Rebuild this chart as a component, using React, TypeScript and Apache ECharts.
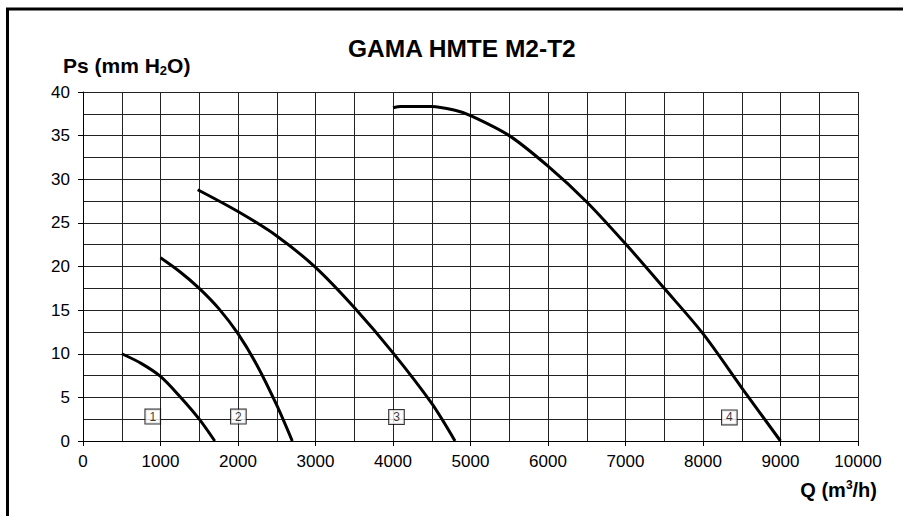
import React, { useEffect, useRef } from "react";
import * as echarts from "echarts";

const curve1: number[][] = [
  [500, 10], [750, 8.9], [1000, 7.4], [1250, 5.1], [1500, 2.5], [1700, 0],
];
const curve2: number[][] = [
  [1000, 21], [1250, 19.4], [1500, 17.5], [1750, 15.2], [2000, 12.3],
  [2250, 8.6], [2500, 4.1], [2700, 0],
];
const curve3: number[][] = [
  [1480, 28.8], [2000, 26.3], [2500, 23.5], [3000, 19.9], [3500, 15.3],
  [4000, 10.1], [4500, 4.3], [4800, 0],
];
const curve4: number[][] = [
  [4000, 38.2], [4100, 38.35], [4500, 38.35], [4800, 37.9], [5000, 37.3],
  [5500, 35.0], [6000, 31.5], [6500, 27.4], [7000, 22.6], [7500, 17.5],
  [8000, 12.3], [8500, 6.1], [9000, 0],
];
const curveLabels: (number | string)[][] = [
  [900, 2.8, "1"], [2005, 2.8, "2"], [4045, 2.75, "3"], [8340, 2.7, "4"],
];

const FONT = "'Liberation Sans', Arial, sans-serif";

export default function App() {
  const ref = useRef<HTMLDivElement>(null);
  useEffect(() => {
    document.body.style.margin = "0";
    const chart = echarts.init(ref.current!, null, { renderer: "svg" });
    const lineSeries = (data: number[][]) => ({
      type: "line",
      data,
      smooth: 0.3,
      showSymbol: false,
      symbol: "none",
      lineStyle: { color: "#000", width: 3 },
      z: 3,
    });
    chart.setOption({
      animation: false,
      backgroundColor: "#fff",
      title: {
        text: "GAMA HMTE M2-T2",
        left: 348,
        top: 36,
        padding: 0,
        textStyle: { fontSize: 24.5, fontWeight: "bold", fontFamily: FONT, color: "#000" },
      },
      grid: { left: 83, top: 92, right: 45, bottom: 75, containLabel: false },
      xAxis: {
        type: "value",
        min: 0,
        max: 10000,
        interval: 1000,
        axisLine: { show: true, lineStyle: { color: "#000", width: 1 } },
        axisTick: { show: true, inside: false, length: 5, lineStyle: { color: "#000" } },
        axisLabel: { fontSize: 17, fontFamily: FONT, color: "#000", margin: 12, formatter: (v: number) => String(v) },
        splitLine: { show: true, lineStyle: { color: "#222", width: 1 } },
        minorTick: { show: false, splitNumber: 2 },
        minorSplitLine: { show: true, lineStyle: { color: "#222", width: 1 } },
      },
      yAxis: {
        type: "value",
        min: 0,
        max: 40,
        interval: 5,
        axisLine: { show: true, lineStyle: { color: "#000", width: 1 } },
        axisTick: { show: true, inside: false, length: 5, lineStyle: { color: "#000" } },
        axisLabel: { fontSize: 17, fontFamily: FONT, color: "#000", margin: 13 },
        splitLine: { show: true, lineStyle: { color: "#222", width: 1 } },
        minorTick: { show: false, splitNumber: 2 },
        minorSplitLine: { show: true, lineStyle: { color: "#222", width: 1 } },
      },
      series: [
        lineSeries(curve1),
        lineSeries(curve2),
        lineSeries(curve3),
        lineSeries(curve4),
        {
          type: "scatter",
          data: curveLabels,
          symbolSize: 1,
          itemStyle: { color: "transparent" },
          z: 4,
          label: {
            show: true,
            position: "inside",
            formatter: (p: any) => String(p.value[2]),
            backgroundColor: "#fff",
            borderColor: "#000",
            borderWidth: 1,
            padding: [1, 4, 1, 4],
            fontSize: 12,
            lineHeight: 12,
            fontFamily: FONT,
            color: "#000",
          },
        },
      ],
      graphic: [
        {
          type: "polyline",
          shape: { points: [[7.5, 530], [7.5, 9], [920, 9]] },
          style: { stroke: "#000", lineWidth: 3, fill: "none" },
          silent: true,
        },
        {
          type: "text",
          x: 63,
          y: 65,
          style: {
            text: "{a|Ps (mm H}{s|2}{a|O)}",
            verticalAlign: "middle",
            align: "left",
            rich: {
              a: { fontSize: 21, fontWeight: "bold", fontFamily: FONT, color: "#000", lineHeight: 24 },
              s: { fontSize: 13, fontWeight: "bold", fontFamily: FONT, color: "#000", verticalAlign: "bottom", lineHeight: 24 },
            },
          },
        },
        {
          type: "text",
          x: 877,
          y: 490,
          style: {
            text: "{a|Q (m}{s|3}{a|/h)}",
            verticalAlign: "middle",
            align: "right",
            rich: {
              a: { fontSize: 20, fontWeight: "bold", fontFamily: FONT, color: "#000", lineHeight: 22 },
              s: { fontSize: 12, fontWeight: "bold", fontFamily: FONT, color: "#000", verticalAlign: "top", lineHeight: 22 },
            },
          },
        },
      ],
    });
    return () => chart.dispose();
  }, []);
  return <div ref={ref} style={{ width: 903, height: 516 }} />;
}
